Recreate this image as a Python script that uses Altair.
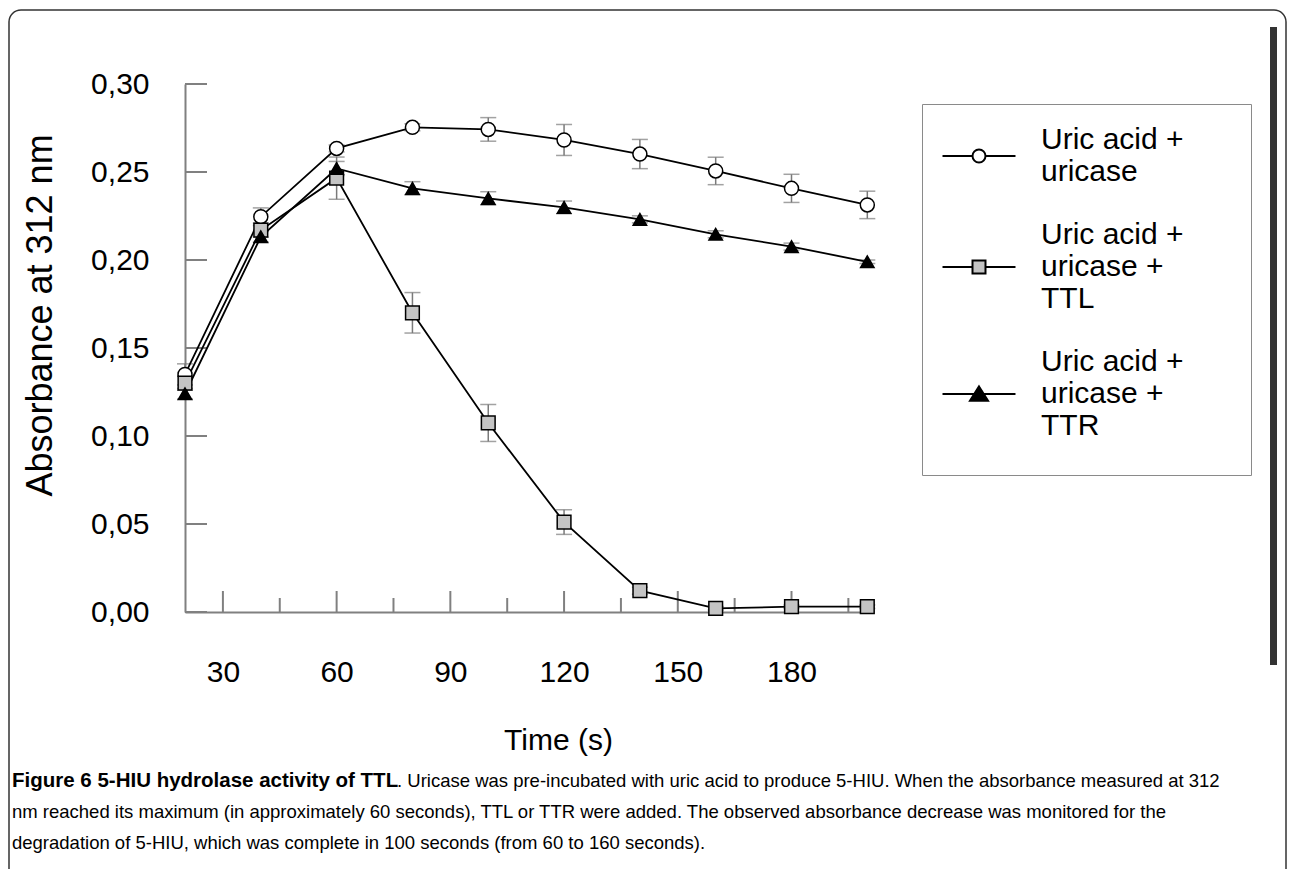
import altair as alt
import pandas as pd

# ---------------- data ----------------
times = [20, 40, 60, 80, 100, 120, 140, 160, 180, 200]
series_names = ["Uric acid + uricase", "Uric acid + uricase + TTL", "Uric acid + uricase + TTR"]

uricase_vals = [0.135, 0.2246, 0.2634, 0.2754, 0.2742, 0.2682, 0.2602, 0.2506, 0.2407, 0.2313]
uricase_err = [0.006, 0.005, 0.002, 0.002, 0.0067, 0.0088, 0.0083, 0.0078, 0.0080, 0.0078]
ttl_vals = [0.130, 0.217, 0.2465, 0.170, 0.1074, 0.0511, 0.0121, 0.0021, 0.0030, 0.0030]
ttl_err = [0.004, 0.004, 0.012, 0.0115, 0.0105, 0.0070, 0.0020, 0.0010, 0.0010, 0.0010]
ttr_vals = [0.124, 0.2132, 0.252, 0.2407, 0.2350, 0.2299, 0.2231, 0.2146, 0.2076, 0.1990]
ttr_err = [0.003, 0.003, 0.004, 0.0038, 0.0038, 0.0036, 0.0020, 0.0020, 0.0020, 0.0010]

y_tick_values = [0.0, 0.05, 0.10, 0.15, 0.20, 0.25, 0.30]
x_label_values = [30, 60, 90, 120, 150, 180]
x_minor_values = [45, 75, 105, 135, 165, 195]

caption_bold = "Figure 6 5-HIU hydrolase activity of TTL"
caption_line1 = ". Uricase was pre-incubated with uric acid to produce 5-HIU. When the absorbance measured at 312"
caption_line2 = "nm reached its maximum (in approximately 60 seconds), TTL or TTR were added. The observed absorbance decrease was monitored for the"
caption_line3 = "degradation of 5-HIU, which was complete in 100 seconds (from 60 to 160 seconds)."

rows = []
for name, vals, errs in [(series_names[0], uricase_vals, uricase_err),
                         (series_names[1], ttl_vals, ttl_err),
                         (series_names[2], ttr_vals, ttr_err)]:
    for t, v, e in zip(times, vals, errs):
        rows.append({"series": name, "t": t, "v": v, "lo": v - e, "hi": v + e})
df = pd.DataFrame(rows)

# ---------------- styling ----------------
W, H = 688, 528
FONT = "Liberation Sans"
AXIS_GRAY = "#808080"

x_scale = alt.Scale(domain=[20, 201.5], nice=False, zero=False)
y_scale = alt.Scale(domain=[0, 0.30], nice=False, zero=False)

x_axis = alt.Axis(values=x_label_values, format="d", ticks=False, grid=False,
                  domainColor=AXIS_GRAY, domainWidth=2,
                  labelFont=FONT, labelFontSize=30, labelColor="black", labelPadding=45,
                  title="Time (s)", titleFont=FONT, titleFontSize=30, titleFontWeight="normal",
                  titleColor="black", titleX=373, titleY=128, titleBaseline="middle",
                  titleAlign="center")
y_axis = alt.Axis(values=y_tick_values, ticks=False, grid=False,
                  labelExpr="replace(format(datum.value, '.2f'), '.', ',')",
                  domainColor=AXIS_GRAY, domainWidth=2,
                  labelFont=FONT, labelFontSize=30, labelColor="black", labelPadding=36,
                  title="Absorbance at 312 nm", titleFont=FONT, titleFontSize=36,
                  titleFontWeight="normal", titleColor="black",
                  titleX=-145, titleY=231, titleBaseline="middle", titleAlign="center")


def X(field):
    return alt.X(field, type="quantitative", scale=x_scale, axis=x_axis)


def Y(field):
    return alt.Y(field, type="quantitative", scale=y_scale, axis=y_axis)


shape_range = ["circle", "square", "triangle-up"]
fill_range = ["white", "#c4c4c4", "black"]
size_range = [196, 180, 300]

# legend symbols: line + marker, drawn as custom paths (unit = 15 px)
U = 15.0
HALF_LINE = 36.5 / U
R = 6.5 / U
RIGHT_EXT = 247 / U   # moveTo only: widens the legend box without drawing
BOTTOM_EXT = 89 / U   # moveTo only: extends the last entry downward


def f(v):
    return f"{v:.3f}"


def circle_path(dy):
    return (f"M{f(-HALF_LINE)},{f(dy)}H{f(-R)}M{f(R)},{f(dy)}H{f(HALF_LINE)}"
            f"M{f(R)},{f(dy)}A{f(R)},{f(R)},0,1,1,{f(-R)},{f(dy)}A{f(R)},{f(R)},0,1,1,{f(R)},{f(dy)}Z"
            f"M{f(RIGHT_EXT)},{f(dy)}")


def square_path(dy):
    return (f"M{f(-HALF_LINE)},{f(dy)}H{f(-R)}M{f(R)},{f(dy)}H{f(HALF_LINE)}"
            f"M{f(-R)},{f(dy - R)}H{f(R)}V{f(dy + R)}H{f(-R)}Z"
            f"M{f(RIGHT_EXT)},{f(dy)}")


def triangle_path(dy):
    return (f"M{f(-HALF_LINE)},{f(dy)}H{f(HALF_LINE)}"
            f"M0,{f(dy - 0.5)}L{f(0.6)},{f(dy + 0.45)}L{f(-0.6)},{f(dy + 0.45)}Z"
            f"M{f(RIGHT_EXT)},{f(dy)}M0,{f(BOTTOM_EXT)}")


legend_paths = [circle_path(16 / U), square_path(32 / U), triangle_path(32 / U)]

label_expr = "split(replace(replace(datum.label, ' uricase', '|uricase'), ' TT', '|TT'), '|')"

legend = alt.Legend(title=None, orient="none", legendX=737, legendY=20,
                    padding=20, rowPadding=32, labelOffset=46, symbolOffset=21,
                    symbolSize=900, symbolStrokeWidth=2, symbolStrokeColor="black",
                    symbolOpacity=1,
                    labelFont=FONT, labelFontSize=30, labelColor="black", labelLimit=600,
                    labelBaseline="middle", labelExpr=label_expr,
                    strokeColor="#8a8a8a", fillColor="white")

# ---------------- decorations ----------------
one = pd.DataFrame({"k": [0]})
frame = alt.Chart(one).mark_rect(fillOpacity=0, stroke="#333333", strokeWidth=1.5,
                                  cornerRadius=12).encode(
    x=alt.value(-176), x2=alt.value(1101), y=alt.value(-74), y2=alt.value(800))
side_bar = alt.Chart(one).mark_rect(color="#333333").encode(
    x=alt.value(1085), x2=alt.value(1092), y=alt.value(-57), y2=alt.value(581))


def caption(text, x, y, weight="normal", size=18.5):
    return alt.Chart(pd.DataFrame({"txt": [text]})).mark_text(
        align="left", baseline="alphabetic", font=FONT, fontSize=size,
        fontWeight=weight, color="black").encode(
        text="txt:N", x=alt.value(x), y=alt.value(y))


cap_layers = [
    caption(caption_bold, -173, 703, "bold", 20.5),
    caption(caption_line1, 212, 703),
    caption(caption_line2, -173, 734),
    caption(caption_line3, -173, 765),
]

# ---------------- axis ticks (inward) ----------------
y_ticks = alt.Chart(pd.DataFrame({"v": y_tick_values})).mark_rule(
    color=AXIS_GRAY, strokeWidth=2).encode(y=Y("v"), x=alt.value(0), x2=alt.value(22))
x_ticks_major = alt.Chart(pd.DataFrame({"t": x_label_values})).mark_rule(
    color=AXIS_GRAY, strokeWidth=2).encode(x=X("t"), y=alt.value(H), y2=alt.value(H - 21))
x_ticks_minor = alt.Chart(pd.DataFrame({"t": x_minor_values})).mark_rule(
    color=AXIS_GRAY, strokeWidth=2).encode(x=X("t"), y=alt.value(H), y2=alt.value(H - 14))

# ---------------- data layers ----------------
base = alt.Chart(df)
err_rule = base.mark_rule(color="#7a7a7a", strokeWidth=1.5).encode(
    x=X("t"), y=Y("lo"), y2="hi:Q")
cap_lo = base.mark_tick(orient="horizontal", size=16, thickness=1.5, color="#7a7a7a").encode(
    x=X("t"), y=Y("lo"))
cap_hi = base.mark_tick(orient="horizontal", size=16, thickness=1.5, color="#7a7a7a").encode(
    x=X("t"), y=Y("hi"))

lines = base.mark_line(color="black", strokeWidth=1.8).encode(
    x=X("t"), y=Y("v"), detail="series:N")

points = base.mark_point(filled=True, stroke="black", strokeWidth=1.5, opacity=1).encode(
    x=X("t"), y=Y("v"),
    shape=alt.Shape("series:N", scale=alt.Scale(domain=series_names, range=shape_range), legend=None),
    fill=alt.Fill("series:N", scale=alt.Scale(domain=series_names, range=fill_range), legend=None),
    size=alt.Size("series:N", scale=alt.Scale(domain=series_names, range=size_range), legend=None),
)

legend_layer = base.mark_point(filled=True, stroke="black", strokeWidth=2, opacity=0).encode(
    x=X("t"), y=Y("v"),
    shape=alt.Shape("series:N", scale=alt.Scale(domain=series_names, range=legend_paths), legend=legend),
    fill=alt.Fill("series:N", scale=alt.Scale(domain=series_names, range=fill_range), legend=legend),
    stroke=alt.Stroke("series:N", scale=alt.Scale(domain=series_names, range=["black"] * 3), legend=legend),
)

chart = alt.layer(
    frame, side_bar, *cap_layers,
    y_ticks, x_ticks_major, x_ticks_minor,
    err_rule, cap_lo, cap_hi, lines, points, legend_layer,
).resolve_scale(
    shape="independent", fill="independent", size="independent", stroke="independent"
).properties(
    width=W, height=H,
    autosize=alt.AutoSizeParams(type="none"),
    padding={"left": 177, "top": 76, "right": 414, "bottom": 257},
    background="white",
).configure_view(strokeWidth=0)

chart.save("out.html", embed_options={"renderer": "svg", "actions": False})
